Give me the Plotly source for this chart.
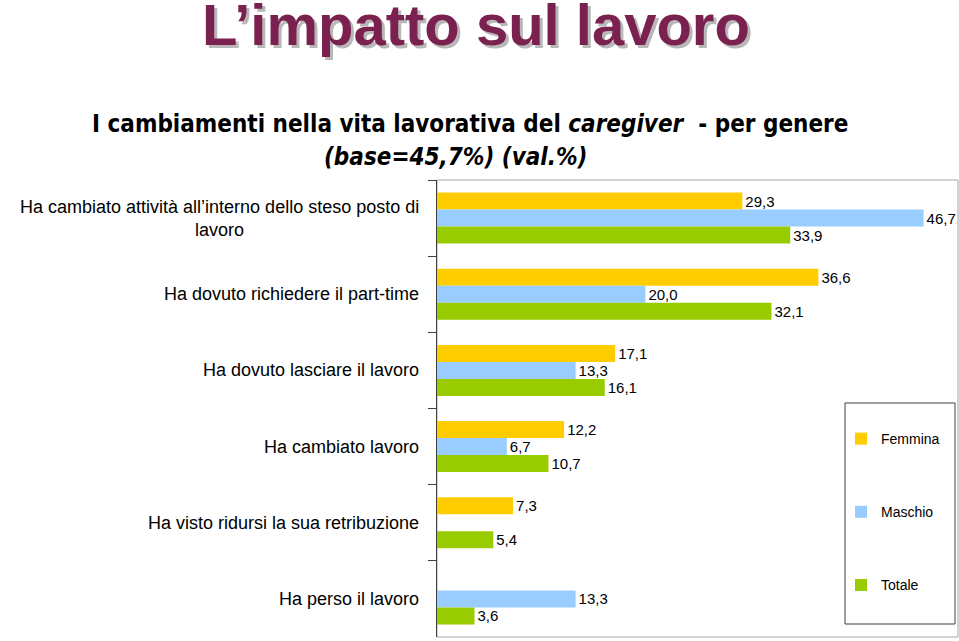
import plotly.graph_objects as go

categories = [
    "Ha cambiato attività all’interno dello steso posto di<br>lavoro",
    "Ha dovuto richiedere il part-time",
    "Ha dovuto lasciare il lavoro",
    "Ha cambiato lavoro",
    "Ha visto ridursi la sua retribuzione",
    "Ha perso il lavoro",
]
femmina = [29.3, 36.6, 17.1, 12.2, 7.3, None]
maschio = [46.7, 20.0, 13.3, 6.7, None, 13.3]
totale = [33.9, 32.1, 16.1, 10.7, 5.4, 3.6]
series_names = ["Femmina", "Maschio", "Totale"]
series_colors = ["#FFCC00", "#99CCFF", "#99CC00"]

W, H = 959, 641
L, R, T, B = 437, 958, 180, 637


def px(x):
    return (x - L) / (R - L)


def py(y):
    return (B - y) / (B - T)


def fmt(v):
    return "" if v is None else f"{v:.1f}".replace(".", ",")


fig = go.Figure()
for name, vals, col in zip(series_names, [femmina, maschio, totale], series_colors):
    fig.add_trace(go.Bar(
        y=categories, x=vals, name=name, orientation="h",
        marker=dict(color=col, line=dict(width=0)),
        text=[fmt(v) for v in vals], textposition="outside",
        textfont=dict(family="Liberation Sans, Arial", size=15, color="#000000"),
        cliponaxis=False, legendgroup=name,
    ))

annotations = []
# category labels
for c in categories:
    annotations.append(dict(
        x=0, xref="paper", y=c, yref="y", xanchor="right", xshift=-16,
        text=c, showarrow=False, align="center",
        font=dict(family="Liberation Sans, Arial", size=18, color="#000000"),
    ))
# title with shadow
annotations.append(dict(
    x=px(476), y=py(24), xref="paper", yref="paper", xanchor="center", yanchor="middle",
    text="<b>L’impatto sul lavoro</b>", showarrow=False,
    font=dict(family="Liberation Sans, Arial", size=58, color="#7A2150",
              shadow="3px 3px 0px #B8B8B8"),
))
sub_font = dict(family="Liberation Sans Narrow, DejaVu Sans Condensed, Arial", size=24, color="#000000")
annotations.append(dict(
    x=px(470), y=py(124), xref="paper", yref="paper", xanchor="center", yanchor="middle",
    text="<b>I cambiamenti nella vita lavorativa del <i>caregiver</i>  - per genere</b>",
    showarrow=False, font=sub_font,
))
annotations.append(dict(
    x=px(455), y=py(157), xref="paper", yref="paper", xanchor="center", yanchor="middle",
    text="<b><i>(base=45,7%) (val.%)</i></b>",
    showarrow=False, font=sub_font,
))

shapes = [
    dict(type="rect", xref="paper", yref="paper", x0=0, x1=1, y0=0, y1=1,
         line=dict(color="#A6A6A6", width=1), layer="below"),
    dict(type="rect", xref="paper", yref="paper", x0=px(845), x1=px(955), y0=py(624), y1=py(403),
         line=dict(color="#404040", width=1), fillcolor="white", layer="above"),
]

fig.update_layout(
    width=W, height=H,
    margin=dict(l=L, r=W - R, t=T, b=H - B, pad=0),
    paper_bgcolor="white", plot_bgcolor="white",
    barmode="group", bargap=0.33, bargroupgap=0,
    showlegend=True,
    legend=dict(
        x=px(841), y=py(423), xanchor="left", yanchor="top",
        bgcolor="rgba(0,0,0,0)", borderwidth=0,
        font=dict(family="Liberation Sans, Arial", size=14, color="#000000"),
        tracegroupgap=52, itemwidth=30,
    ),
    xaxis=dict(range=[0, 50], visible=False, fixedrange=True),
    yaxis=dict(
        type="category", autorange="reversed", showticklabels=False,
        ticks="outside", tickson="boundaries", ticklen=8, tickcolor="#404040",
        showline=True, linecolor="#404040", linewidth=1, showgrid=False,
    ),
    annotations=annotations, shapes=shapes,
    font=dict(family="Liberation Sans, Arial"),
)

fig.write_html("out.html")
